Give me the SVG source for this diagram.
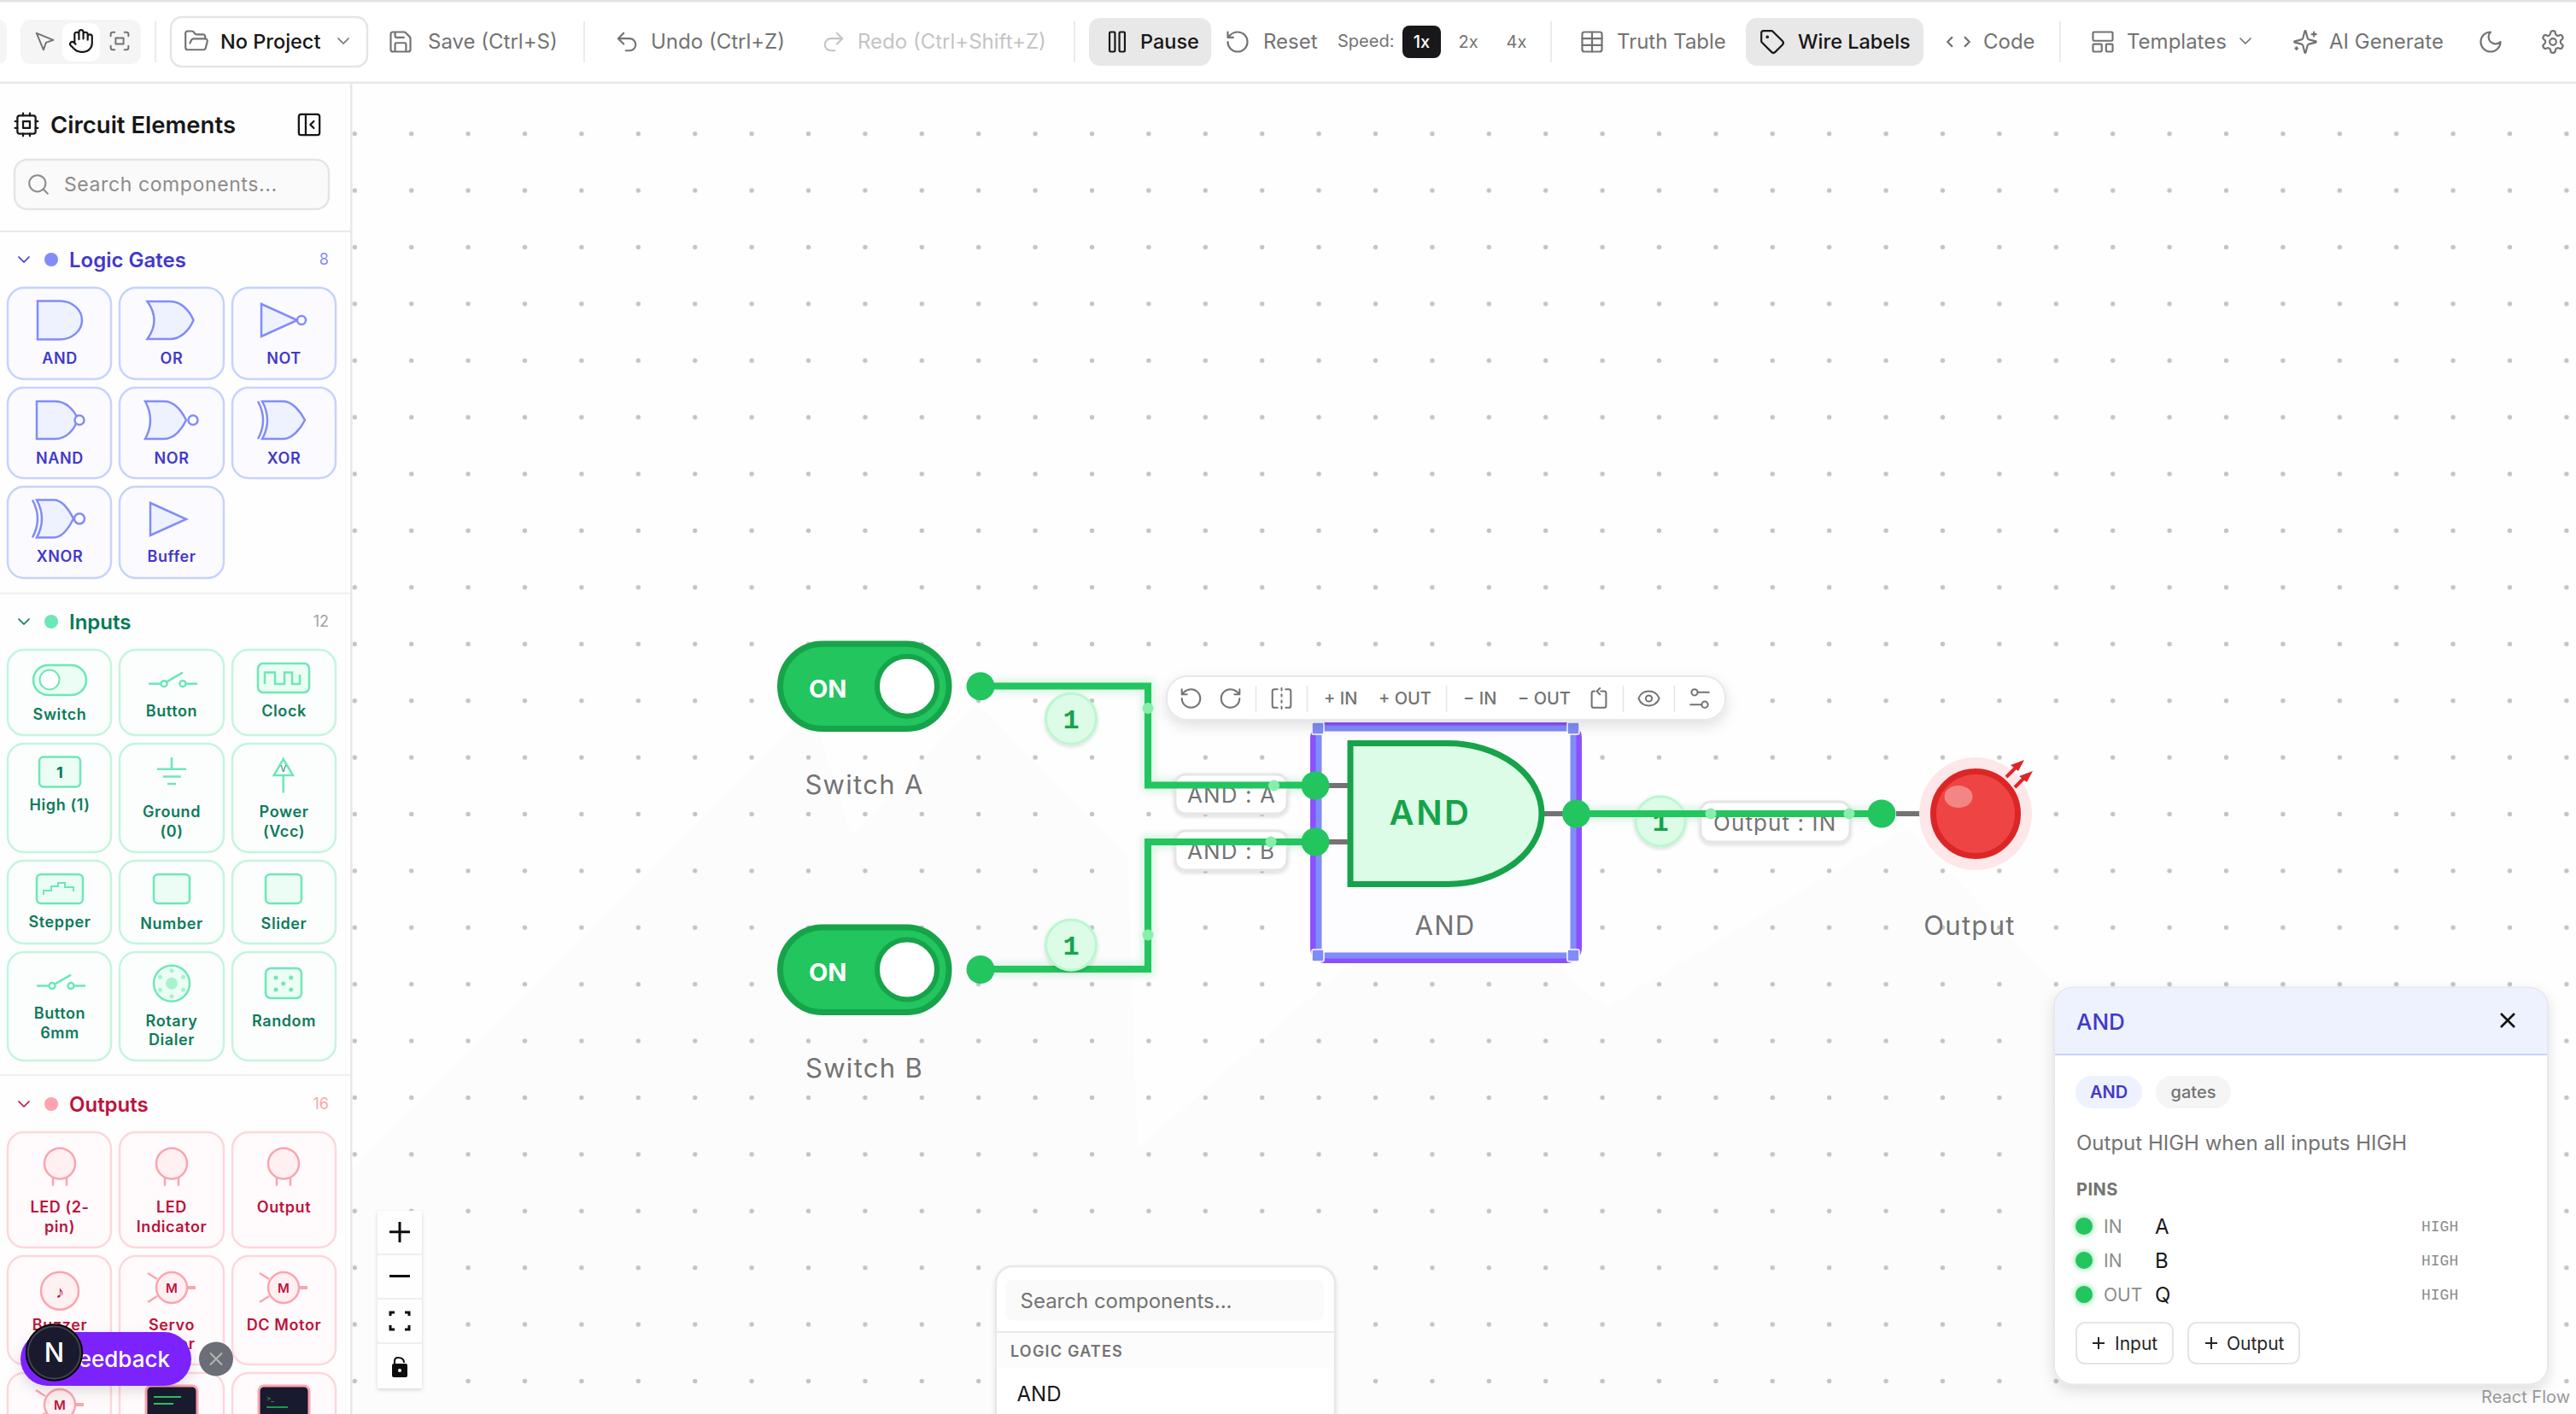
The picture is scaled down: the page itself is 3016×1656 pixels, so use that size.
<svg xmlns="http://www.w3.org/2000/svg" width="3016" height="1656" viewBox="0 0 3016 1656">
<style>
text{font-family:"Inter","Liberation Sans",sans-serif}
.ic{fill:none;stroke:#737373;stroke-width:1.700;stroke-linecap:round;stroke-linejoin:round}
.ick{fill:none;stroke:#171717;stroke-width:1.700;stroke-linecap:round;stroke-linejoin:round}
.icd{fill:none;stroke:#c4c4c4;stroke-width:1.700;stroke-linecap:round;stroke-linejoin:round}
.tb{font-size:24px;fill:#737373;font-weight:400}
.tbk{font-size:23.500px;fill:#171717;font-weight:500}
.sep{stroke:#e5e5e5;stroke-width:1.500}
.sh{font-size:24px;font-weight:600}
.cg{fill:#fbfbff;stroke:#c7d2fe;stroke-width:2.500}
.ci{fill:#fbfefd;stroke:#c4f5de;stroke-width:2.500}
.co{fill:#fffbfc;stroke:#ffd6dc;stroke-width:2.500}
.lg{font-size:18px;font-weight:600;fill:#4338ca;text-anchor:middle;letter-spacing:.6px}
.li{font-size:18px;font-weight:600;fill:#0f7a5a;text-anchor:middle;letter-spacing:.6px}
.lo{font-size:18px;font-weight:600;fill:#be123c;text-anchor:middle;letter-spacing:.6px}
.gi{fill:#eef2ff;stroke:#818cf8;stroke-width:2.500}
.ii{fill:#ecfdf5;stroke:#6ee7b7;stroke-width:2.500}
.il{fill:none;stroke:#6ee7b7;stroke-width:2.500}
.oi{fill:#fff1f2;stroke:#fda4af;stroke-width:2.500}
.ol{fill:none;stroke:#fda4af;stroke-width:2.500}
.cnt{font-size:18px;text-anchor:end}
.wire{fill:none;stroke:#22c55e;stroke-width:8}
.glow{fill:none;stroke:#22c55e;stroke-width:16;opacity:.16}
.stub{stroke:#737373;stroke-width:6}
.pin{fill:#22c55e}
.jn{fill:#86efac}
.wl{fill:#fff;stroke:#e5e5e5;stroke-width:3}
.wlt{font-size:26px;fill:#737373;letter-spacing:1.100px}
.nl{font-size:31px;fill:#737373;letter-spacing:1.300px}
.bdg{fill:#dcfce7;stroke:#bbf7d0;stroke-width:3}
.bdt{font-family:"Liberation Mono",monospace;font-size:32px;font-weight:700;fill:#16a34a;text-anchor:middle}
.sw{fill:#22c55e;stroke:#16a34a;stroke-width:7}
.kn{fill:#fff;stroke:#16a34a;stroke-width:6}
.on{font-size:29px;font-weight:700;fill:#fff}
.nt{font-size:20px;font-weight:500;fill:#737373}
.hd{fill:#818cf8;stroke:#fff;stroke-width:1.500}
.pn{font-size:21px;fill:#8c8c8c}
.pv{font-size:24px;fill:#171717}
.ph{font-family:"Liberation Mono",monospace;font-size:18px;fill:#8c8c8c}
</style>
<defs>
<pattern id="dots" patternUnits="userSpaceOnUse" x="-16.300" y="-9.300" width="66.400" height="66.400"><circle cx="33.200" cy="33.200" r="2.700" fill="#c4c4c4"/></pattern>
<filter id="shadow" x="-20%" y="-30%" width="140%" height="170%"><feDropShadow dx="0" dy="6" stdDeviation="8" flood-color="#000" flood-opacity=".12"/></filter>
<filter id="shs" x="-20%" y="-30%" width="140%" height="170%"><feDropShadow dx="0" dy="2" stdDeviation="2" flood-color="#000" flood-opacity=".14"/></filter>
<filter id="blur" x="-20%" y="-20%" width="140%" height="140%"><feGaussianBlur stdDeviation="4"/></filter>
<filter id="pg" x="-100%" y="-100%" width="300%" height="300%"><feGaussianBlur stdDeviation="3"/></filter>
<g id="pointer"><path transform="translate(-12,-12)" d="m4 4 7.070 17 2.510-7.390L21 11.070z"/></g>
<g id="hand"><path transform="translate(-12,-12)" d="M18 11V6a2 2 0 0 0-2-2a2 2 0 0 0-2 2 M14 10V4a2 2 0 0 0-2-2a2 2 0 0 0-2 2v2 M10 10.500V6a2 2 0 0 0-2-2a2 2 0 0 0-2 2v8 M18 8a2 2 0 1 1 4 0v6a8 8 0 0 1-8 8h-2c-2.800 0-4.500-.860-5.990-2.340l-3.600-3.600a2 2 0 0 1 2.830-2.820L7 15"/></g>
<g id="scan"><path transform="translate(-12,-12)" d="M3 7V5a2 2 0 0 1 2-2h2 M17 3h2a2 2 0 0 1 2 2v2 M21 17v2a2 2 0 0 1-2 2h-2 M7 21H5a2 2 0 0 1-2-2v-2 M8 9h8v6H8z"/></g>
<g id="folder"><path transform="translate(-12,-12)" d="m6 14 1.500-2.900A2 2 0 0 1 9.240 10H20a2 2 0 0 1 1.940 2.500l-1.540 6a2 2 0 0 1-1.940 1.500H4a2 2 0 0 1-2-2V5a2 2 0 0 1 2-2h3.900a2 2 0 0 1 1.690.900l.810 1.200a2 2 0 0 0 1.670.900H18a2 2 0 0 1 2 2v2"/></g>
<g id="chev"><path d="M-6,-3 L0,3 L6,-3"/></g>
<g id="save"><path transform="translate(-12,-12)" d="M15.200 3a2 2 0 0 1 1.400.600l3.800 3.800a2 2 0 0 1 .600 1.400V19a2 2 0 0 1-2 2H5a2 2 0 0 1-2-2V5a2 2 0 0 1 2-2z M17 21v-7a1 1 0 0 0-1-1H8a1 1 0 0 0-1 1v7 M7 3v4a1 1 0 0 0 1 1h7"/></g>
<g id="undo"><path transform="translate(-12,-12)" d="M9 14 4 9l5-5 M4 9h10.500a5.500 5.500 0 0 1 5.500 5.500a5.500 5.500 0 0 1-5.500 5.500H11"/></g>
<g id="redo"><path transform="translate(-12,-12)" d="m15 14 5-5-5-5 M20 9H9.500A5.500 5.500 0 0 0 4 14.500A5.500 5.500 0 0 0 9.500 20H13"/></g>
<g id="pause"><g transform="translate(-12,-12)"><rect x="14" y="3" width="5" height="18" rx="1"/><rect x="5" y="3" width="5" height="18" rx="1"/></g></g>
<g id="ccw"><path transform="translate(-12,-12)" d="M3 12a9 9 0 1 0 9-9 9.750 9.750 0 0 0-6.740 2.740L3 8 M3 3v5h5"/></g>
<g id="cw"><path transform="translate(-12,-12)" d="M21 12a9 9 0 1 1-9-9c2.520 0 4.930 1 6.740 2.740L21 8 M21 3v5h-5"/></g>
<g id="table"><g transform="translate(-12,-12)"><rect x="3" y="3" width="18" height="18" rx="2"/><path d="M3 9h18 M3 15h18 M12 3v18"/></g></g>
<g id="tag"><g transform="translate(-12,-12)"><path d="M12.586 2.586A2 2 0 0 0 11.172 2H4a2 2 0 0 0-2 2v7.172a2 2 0 0 0 .586 1.414l8.704 8.704a2.426 2.426 0 0 0 3.420 0l6.580-6.580a2.426 2.426 0 0 0 0-3.420z"/><circle cx="7.500" cy="7.500" r=".600"/></g></g>
<g id="code"><path transform="translate(-12,-12)" d="m18 16 4-4-4-4 M6 8l-4 4 4 4"/></g>
<g id="tmpl"><g transform="translate(-12,-12)"><rect x="3" y="3" width="18" height="8" rx="1"/><rect x="3" y="14" width="8" height="7" rx="1"/><rect x="15" y="14" width="6" height="7" rx="1"/></g></g>
<g id="spark"><path transform="translate(-12,-12)" d="M9.937 15.500A2 2 0 0 0 8.500 14.063l-6.135-1.582a.500.500 0 0 1 0-.962L8.500 9.936A2 2 0 0 0 9.937 8.500l1.582-6.135a.500.500 0 0 1 .963 0L14.063 8.500A2 2 0 0 0 15.500 9.937l6.135 1.581a.500.500 0 0 1 0 .964L15.500 14.063a2 2 0 0 0-1.437 1.437l-1.582 6.135a.500.500 0 0 1-.963 0z M20 3v4 M22 5h-4 M4 17v2 M5 18H3"/></g>
<g id="moon"><path transform="translate(-12,-12)" d="M12 3a6 6 0 0 0 9 9 9 9 0 1 1-9-9Z"/></g>
<g id="gear"><g transform="translate(-12,-12)"><path d="M12.220 2h-.440a2 2 0 0 0-2 2v.180a2 2 0 0 1-1 1.730l-.430.250a2 2 0 0 1-2 0l-.150-.080a2 2 0 0 0-2.730.730l-.220.380a2 2 0 0 0 .730 2.730l.150.100a2 2 0 0 1 1 1.720v.510a2 2 0 0 1-1 1.740l-.150.090a2 2 0 0 0-.730 2.730l.220.380a2 2 0 0 0 2.730.730l.150-.080a2 2 0 0 1 2 0l.430.250a2 2 0 0 1 1 1.730V20a2 2 0 0 0 2 2h.440a2 2 0 0 0 2-2v-.180a2 2 0 0 1 1-1.730l.430-.250a2 2 0 0 1 2 0l.150.080a2 2 0 0 0 2.730-.730l.220-.390a2 2 0 0 0-.730-2.730l-.150-.080a2 2 0 0 1-1-1.740v-.500a2 2 0 0 1 1-1.740l.150-.090a2 2 0 0 0 .730-2.730l-.220-.380a2 2 0 0 0-2.730-.730l-.150.080a2 2 0 0 1-2 0l-.430-.250a2 2 0 0 1-1-1.730V4a2 2 0 0 0-2-2z"/><circle cx="12" cy="12" r="3"/></g></g>
<g id="cpu"><g transform="translate(-12,-12)"><rect x="4" y="4" width="16" height="16" rx="2"/><rect x="9" y="9" width="6" height="6"/><path d="M15 2v2 M15 20v2 M2 15h2 M2 9h2 M20 15h2 M20 9h2 M9 2v2 M9 20v2"/></g></g>
<g id="panel"><g transform="translate(-12,-12)"><rect x="3" y="3" width="18" height="18" rx="2"/><path d="M9 3v18 M16 15l-3-3 3-3"/></g></g>
<g id="search"><g transform="translate(-12,-12)"><circle cx="11" cy="11" r="8"/><path d="m21 21-4.340-4.340"/></g></g>
<g id="eye"><g transform="translate(-12,-12)"><path d="M2.062 12.348a1 1 0 0 1 0-.696 10.750 10.750 0 0 1 19.876 0 1 1 0 0 1 0 .696 10.750 10.750 0 0 1-19.876 0"/><circle cx="12" cy="12" r="3"/></g></g>
<g id="sliders"><g transform="translate(-12,-12)"><circle cx="7" cy="6" r="3"/><path d="M10 6h11 M3 18h11"/><circle cx="17" cy="18" r="3"/></g></g>
<g id="flip"><path transform="translate(-12,-12)" d="M8 3H5a2 2 0 0 0-2 2v14c0 1.100.900 2 2 2h3 M16 3h3a2 2 0 0 1 2 2v14a2 2 0 0 1-2 2h-3 M12 20v2 M12 14v2 M12 8v2 M12 2v2"/></g>
<g id="rot"><path transform="translate(-12,-12)" d="M8 5H7a2 2 0 0 0-2 2v12a2 2 0 0 0 2 2h10a2 2 0 0 0 2-2V7a2 2 0 0 0-2-2h-3 M10 5l3-3 M10 5l3 3"/></g>
<g id="led"><circle cx="0" cy="0" r="18" class="oi"/><path class="ol" d="M-8,16 V26 M8,16 V26"/></g>
<g id="motor"><path class="ol" d="M-28,-17 L-17,-10 M-28,17 L-17,10"/><path d="M18,0 H28" fill="none" stroke="#fda4af" stroke-width="4"/><circle r="18" class="oi"/><text y="6" text-anchor="middle" font-size="15" font-weight="600" fill="#be123c">M</text></g>
<g id="btnic"><path class="il" d="M-28,0 H-13 M-7,-2 L12,-13 M14,0 H29"/><circle cx="-10" cy="0" r="3.500" class="il"/><circle cx="12" cy="0" r="3.500" class="il"/></g>
</defs>

<rect width="3016" height="1656" fill="#fff"/>
<g id="canvas">
<rect x="412" y="98" width="2604" height="1558" fill="#fefefe"/>
<path d="M412,1370 L950,830 L997,979 L1144,823 L1320,1000 L1332,1345 L1693,1030 L1880,1180 L2233,970 L2540,1290 L3016,1656 L412,1656Z" fill="#fdfcfd"/>
<rect x="412" y="98" width="2604" height="1558" fill="url(#dots)"/>
</g>

<g id="topbar">
<rect y="0" width="3016" height="97" fill="#fff"/>
<rect y="0" width="3016" height="2.500" fill="#e3e3e3"/>
<rect y="95.500" width="3016" height="2.500" fill="#e8e8e8"/>
<rect x="-20" y="23" width="28" height="52" rx="10" fill="#f5f5f5"/>
<rect x="24" y="23" width="141" height="52" rx="12" fill="#f5f5f5"/>
<rect x="73" y="27" width="44" height="45" rx="10" fill="#fff"/>
<use href="#pointer" class="ic" transform="translate(52,48) scale(1.150)"/>
<use href="#hand" class="ick" transform="translate(95,48) scale(1.280)"/>
<use href="#scan" class="ic" transform="translate(140,48) scale(1.150)"/>
<line class="sep" x1="182" x2="182" y1="25" y2="73"/>
<rect x="200" y="20" width="230" height="58" rx="13" fill="#fff" stroke="#e5e5e5" stroke-width="2.500"/>
<use href="#folder" class="ic" transform="translate(230,48) scale(1.280)"/>
<text class="tbk" x="258" y="57">No Project</text>
<use href="#chev" class="ic" transform="translate(402,48)"/>
<use href="#save" class="ic" transform="translate(469,49) scale(1.280)"/>
<text class="tb" x="501" y="57">Save (Ctrl+S)</text>
<line class="sep" x1="684" x2="684" y1="25" y2="73"/>
<use href="#undo" class="ic" transform="translate(734,49) scale(1.280)"/>
<text class="tb" x="762" y="57">Undo (Ctrl+Z)</text>
<use href="#redo" class="icd" transform="translate(976,49) scale(1.280)"/>
<text class="tb" x="1004" y="57" style="fill:#c4c4c4">Redo (Ctrl+Shift+Z)</text>
<line class="sep" x1="1258" x2="1258" y1="25" y2="73"/>
<rect x="1275" y="21" width="143" height="56" rx="13" fill="#e8e8e8"/>
<use href="#pause" class="ick" transform="translate(1308,49) scale(1.280)"/>
<text class="tbk" x="1335" y="57">Pause</text>
<use href="#ccw" class="ic" transform="translate(1449,49) scale(1.280)"/>
<text class="tb" x="1479" y="57">Reset</text>
<text x="1566" y="55" font-size="20" fill="#737373">Speed:</text>
<rect x="1642" y="30" width="45" height="38" rx="8" fill="#18181b"/>
<text x="1664.500" y="56" font-size="20" font-weight="500" fill="#fff" text-anchor="middle">1x</text>
<text x="1719" y="56" font-size="20" fill="#737373" text-anchor="middle">2x</text>
<text x="1775.500" y="56" font-size="20" fill="#737373" text-anchor="middle">4x</text>
<line class="sep" x1="1816" x2="1816" y1="25" y2="73"/>
<use href="#table" class="ic" transform="translate(1864,49) scale(1.280)"/>
<text class="tb" x="1893" y="57">Truth Table</text>
<rect x="2044" y="21" width="208" height="56" rx="13" fill="#e8e8e8"/>
<use href="#tag" class="ick" transform="translate(2075,49) scale(1.280)"/>
<text class="tbk" x="2105" y="57">Wire Labels</text>
<use href="#code" class="ic" transform="translate(2293,49) scale(1.280)"/>
<text class="tb" x="2322" y="57">Code</text>
<line class="sep" x1="2412" x2="2412" y1="25" y2="73"/>
<use href="#tmpl" class="ic" transform="translate(2462,49) scale(1.280)"/>
<text class="tb" x="2490" y="57">Templates</text>
<use href="#chev" class="ic" transform="translate(2629,48)"/>
<use href="#spark" class="ic" transform="translate(2699,49) scale(1.280)"/>
<text class="tb" x="2727" y="57">AI Generate</text>
<use href="#moon" class="ic" transform="translate(2916,49) scale(1.280)"/>
<use href="#gear" class="ic" transform="translate(2989,49) scale(1.280)"/>
</g>

<g id="sidebar">
<rect x="0" y="98" width="410" height="1558" fill="#fefefe"/>
<rect x="410" y="98" width="2.500" height="1558" fill="#e8e8e8"/>
<use href="#cpu" class="ick" transform="translate(31,146) scale(1.330)"/>
<text x="59" y="156" font-size="27.500" font-weight="600" fill="#171717">Circuit Elements</text>
<use href="#panel" class="ick" transform="translate(362,146) scale(1.350)"/>
<rect x="17" y="187" width="368" height="58" rx="15" fill="#fafafa" stroke="#e5e5e5" stroke-width="2.500"/>
<use href="#search" class="ic" transform="translate(45,216) scale(1.200)" style="stroke:#8c8c8c"/>
<text x="75" y="224" font-size="23" fill="#8c8c8c" letter-spacing=".6">Search components...</text>
<line x1="0" x2="410" y1="271" y2="271" stroke="#e8e8e8" stroke-width="2"/>
<use href="#chev" class="ic" transform="translate(28,304)" style="stroke:#4338ca"/>
<circle cx="60" cy="304" r="8" fill="#818cf8"/>
<text class="sh" x="81" y="313" fill="#4338ca">Logic Gates</text>
<text class="cnt" x="385" y="310" fill="#818cf8">8</text>

<rect class="cg" x="9" y="337" width="121" height="107" rx="19"/><rect class="cg" x="140" y="337" width="122" height="107" rx="19"/><rect class="cg" x="272" y="337" width="121" height="107" rx="19"/>
<rect class="cg" x="9" y="454" width="121" height="106" rx="19"/><rect class="cg" x="140" y="454" width="122" height="106" rx="19"/><rect class="cg" x="272" y="454" width="121" height="106" rx="19"/>
<rect class="cg" x="9" y="570" width="121" height="107" rx="19"/><rect class="cg" x="140" y="570" width="122" height="107" rx="19"/>
<path class="gi" transform="translate(70,375)" d="M-26,-22.500 H0 A26,22.500 0 0 1 0,22.500 H-26 Z"/>
<path class="gi" transform="translate(199.500,375)" d="M-27,-22 H0 C12,-22 22,-12 27,0 C22,12 12,22 0,22 H-27 Q-11,0 -27,-22 Z"/>
<g transform="translate(330,375)"><path class="gi" d="M-24,-19 L18,0 L-24,19 Z"/><circle class="gi" cx="23" cy="0" r="5" style="fill:#fff"/></g>
<g transform="translate(69,492)"><path class="gi" d="M-26,-22 H-4 C8,-22 18,-12 22,-1 C18,12 8,22 -4,22 H-26 Z"/><circle class="gi" cx="24" r="5.500" style="fill:#fff"/></g>
<g transform="translate(198,492)"><path class="gi" d="M-28,-22 H-6 C6,-22 15,-10 20,0 C15,10 6,22 -6,22 H-28 Q-16,0 -28,-22 Z"/><circle class="gi" cx="28" r="5.500" style="fill:#fff"/></g>
<g transform="translate(332,492)"><path class="gi" d="M-25,-22 H0 C10,-22 20,-10 25,0 C20,10 10,22 0,22 H-25 Q-13,0 -25,-22 Z"/><path class="gi" style="fill:none" d="M-30,-22 Q-18,0 -30,22"/></g>
<g transform="translate(65,607.500)"><path class="gi" d="M-22,-22 H-2 C8,-22 16,-10 21,0 C16,10 8,22 -2,22 H-22 Q-10,0 -22,-22 Z"/><path class="gi" style="fill:none" d="M-27,-22 Q-15,0 -27,22"/><circle class="gi" cx="28" r="6" style="fill:#fff"/></g>
<path class="gi" d="M176,589 L218,608 L176,627 Z"/>
<text class="lg" x="70" y="425.500">AND</text><text class="lg" x="201" y="425.500">OR</text><text class="lg" x="332.500" y="425.500">NOT</text>
<text class="lg" x="70" y="542.500">NAND</text><text class="lg" x="201" y="542.500">NOR</text><text class="lg" x="332.500" y="542.500">XOR</text>
<text class="lg" x="70" y="658">XNOR</text><text class="lg" x="201" y="658">Buffer</text>
<line x1="0" x2="410" y1="695" y2="695" stroke="#f0f0f0" stroke-width="2"/>

<use href="#chev" class="ic" transform="translate(28,728)" style="stroke:#047857"/>
<circle cx="60" cy="728" r="8" fill="#6ee7b7"/>
<text class="sh" x="81" y="737" fill="#047857">Inputs</text>
<text class="cnt" x="385" y="734" fill="#a3a3a3">12</text>
<rect class="ci" x="9" y="761" width="121" height="100" rx="19"/><rect class="ci" x="140" y="761" width="122" height="100" rx="19"/><rect class="ci" x="272" y="761" width="121" height="100" rx="19"/>
<rect class="ci" x="9" y="871" width="121" height="127" rx="19"/><rect class="ci" x="140" y="871" width="122" height="127" rx="19"/><rect class="ci" x="272" y="871" width="121" height="127" rx="19"/>
<rect class="ci" x="9" y="1008" width="121" height="97" rx="19"/><rect class="ci" x="140" y="1008" width="122" height="97" rx="19"/><rect class="ci" x="272" y="1008" width="121" height="97" rx="19"/>
<rect class="ci" x="9" y="1115" width="121" height="127" rx="19"/><rect class="ci" x="140" y="1115" width="122" height="127" rx="19"/><rect class="ci" x="272" y="1115" width="121" height="127" rx="19"/>
<rect class="ii" x="39" y="779" width="62" height="35" rx="17.500"/><circle cx="58" cy="796" r="11.500" fill="#fff" stroke="#6ee7b7" stroke-width="2"/>
<use href="#btnic" transform="translate(202,800.700)"/>
<rect class="ii" x="302" y="777" width="60" height="34" rx="6"/><path class="il" d="M310,801 V787.500 H322 V801 H333 V787.500 H342 V801 H351 V790"/>
<rect class="ii" x="46" y="886.500" width="48" height="35" rx="5"/><text x="70" y="911" font-size="18" font-weight="700" fill="#047857" text-anchor="middle">1</text>
<path class="il" d="M201,887 V900.700 M184,900.700 H218 M190.700,909.600 H211.700 M196,918 H206"/>
<path class="il" d="M331.700,889 L343,908 H320.700 Z M331.700,908 V928.600"/><text x="331.700" y="904" font-size="10" fill="#047857" text-anchor="middle">V</text>
<rect class="ii" x="43" y="1024" width="54" height="34" rx="5"/><path class="il" d="M51,1048 V1043 H60 V1038 H68 V1034 H76 V1039 H86 V1044" style="stroke-width:2"/>
<rect class="ii" x="180" y="1024" width="42" height="34" rx="5"/>
<rect class="ii" x="311" y="1024" width="42" height="34" rx="5"/>
<use href="#btnic" transform="translate(71,1154.600)"/>
<g transform="translate(201,1151.800)"><circle class="ii" r="21"/><circle r="7" fill="#a7f3d0"/><g fill="#a7f3d0"><circle cy="-15" r="2.500"/><circle cy="15" r="2.500"/><circle cx="-13.500" cy="-7.500" r="2.500"/><circle cx="13.500" cy="-7.500" r="2.500"/><circle cx="-13.500" cy="7.500" r="2.500"/><circle cx="13.500" cy="7.500" r="2.500"/></g></g>
<rect class="ii" x="311" y="1134" width="42" height="35" rx="6"/><g fill="#6ee7b7"><circle cx="323" cy="1145" r="2.500"/><circle cx="340.700" cy="1145" r="2.500"/><circle cx="331.700" cy="1152" r="2.500"/><circle cx="323" cy="1159" r="2.500"/><circle cx="340.700" cy="1159" r="2.500"/></g>
<text class="li" x="70" y="843">Switch</text><text class="li" x="201" y="839">Button</text><text class="li" x="332.500" y="839">Clock</text>
<text class="li" x="70" y="949">High (1)</text><text class="li" x="201" y="957">Ground</text><text class="li" x="201" y="980">(0)</text><text class="li" x="332.500" y="957">Power</text><text class="li" x="332.500" y="980">(Vcc)</text>
<text class="li" x="70" y="1086">Stepper</text><text class="li" x="201" y="1087.500">Number</text><text class="li" x="332.500" y="1087.500">Slider</text>
<text class="li" x="70" y="1193">Button</text><text class="li" x="70" y="1216">6mm</text><text class="li" x="201" y="1202">Rotary</text><text class="li" x="201" y="1224">Dialer</text><text class="li" x="332.500" y="1202">Random</text>
<line x1="0" x2="410" y1="1259" y2="1259" stroke="#f0f0f0" stroke-width="2"/>

<use href="#chev" class="ic" transform="translate(28,1293)" style="stroke:#be123c"/>
<circle cx="60" cy="1293" r="8" fill="#fda4af"/>
<text class="sh" x="81" y="1302" fill="#be123c">Outputs</text>
<text class="cnt" x="385" y="1299" fill="#fda4af">16</text>
<rect class="co" x="9" y="1326" width="121" height="135" rx="19"/><rect class="co" x="140" y="1326" width="122" height="135" rx="19"/><rect class="co" x="272" y="1326" width="121" height="135" rx="19"/>
<rect class="co" x="9" y="1471" width="121" height="127" rx="19"/><rect class="co" x="140" y="1471" width="122" height="127" rx="19"/><rect class="co" x="272" y="1471" width="121" height="127" rx="19"/>
<rect class="co" x="9" y="1608" width="121" height="80" rx="19"/><rect class="co" x="140" y="1608" width="122" height="80" rx="19"/><rect class="co" x="272" y="1608" width="121" height="80" rx="19"/>
<use href="#led" transform="translate(70,1362.700)"/><use href="#led" transform="translate(201,1362.700)"/><use href="#led" transform="translate(332,1362.700)"/>
<text class="lo" x="70" y="1420">LED (2-</text><text class="lo" x="70" y="1443">pin)</text><text class="lo" x="201" y="1420">LED</text><text class="lo" x="201" y="1443">Indicator</text><text class="lo" x="332.500" y="1420">Output</text>
<circle class="oi" cx="70" cy="1511.700" r="22"/><text x="70" y="1520" font-size="20" fill="#be123c" text-anchor="middle" font-family="DejaVu Sans">♪</text>
<use href="#motor" transform="translate(201,1508)"/><use href="#motor" transform="translate(332,1508)"/><use href="#motor" transform="translate(70,1645)"/>
<text class="lo" x="70" y="1557.700">Buzzer</text><text class="lo" x="201" y="1557.700">Servo</text><text class="lo" x="201" y="1580">Motor</text><text class="lo" x="332.500" y="1557.700">DC Motor</text>
<rect x="171" y="1623" width="60" height="50" rx="6" fill="#1a1a2e" stroke="#fda4af" stroke-width="3"/><path d="M180,1636 H212 M180,1644 H203" stroke="#22c55e" stroke-width="2"/>
<rect x="303" y="1623" width="59" height="50" rx="6" fill="#1a1a2e" stroke="#fda4af" stroke-width="3"/><text x="312" y="1641" font-size="8" fill="#22c55e" font-family="Liberation Mono">&gt;_</text><path d="M312,1648 H337" stroke="#22c55e" stroke-width="1.500"/>
</g>

<g id="zoom-controls" filter="url(#shs)">
<rect x="442" y="1418" width="52" height="208" fill="#fefefe"/>
<path d="M442,1469 H494 M442,1521 H494 M442,1573 H494" stroke="#eee" stroke-width="2"/>
<path d="M456,1442.700 H480 M468,1431 V1455 M456,1494.500 H480" stroke="#111" stroke-width="3" fill="none"/>
<path d="M457,1541 V1537 H462 M474,1537 H479 V1541 M457,1552 V1557 H462 M474,1557 H479 V1552" stroke="#111" stroke-width="3" fill="none"/>
<rect x="459" y="1597" width="18" height="16" rx="2" fill="#111"/><circle cx="468" cy="1605" r="2" fill="#fff"/><path d="M462,1597 V1594 Q462,1590 466,1590 Q473,1590 473,1596" fill="none" stroke="#111" stroke-width="2"/>
</g>

<g id="connectors">
<path class="glow" filter="url(#blur)" d="M1164,803.500 H1344 V919.500 H1540 M1164,1135 H1344 V986 H1540 M1861,953 H2203"/>
<g id="wire-labels">
<g filter="url(#shs)"><rect class="wl" x="1376" y="907" width="131" height="46" rx="12"/><rect class="wl" x="1376" y="973" width="131" height="46" rx="12"/><rect class="wl" x="1991" y="939" width="175" height="47" rx="12"/></g>
<text class="wlt" x="1390" y="940">AND : A</text><text class="wlt" x="1390" y="1005.500">AND : B</text><text class="wlt" x="2006" y="973">Output : IN</text>
<g filter="url(#shs)"><circle class="bdg" cx="1944" cy="961.700" r="29"/></g><text class="bdt" x="1944" y="973">1</text>
</g>
<path class="wire" d="M1148,803.500 H1344 V919.500 H1540"/>
<path class="wire" d="M1148,1135 H1344 V986 H1540"/>
<path class="wire" d="M1845,953 H2203"/>
<circle class="jn" cx="1344" cy="829.500" r="6.500"/><circle class="jn" cx="1344" cy="1095" r="6.500"/><circle class="jn" cx="1491.500" cy="920" r="6.500"/><circle class="jn" cx="1488" cy="986" r="6.500"/><circle class="jn" cx="2003" cy="953" r="6.500"/><circle class="jn" cx="2165" cy="953" r="6.500"/>
<g filter="url(#shs)"><circle class="bdg" cx="1254" cy="841.700" r="29.500"/><circle class="bdg" cx="1254" cy="1106.700" r="29.500"/></g>
<text class="bdt" x="1254" y="853">1</text><text class="bdt" x="1254" y="1118">1</text>
</g>

<g id="switch-a">
<rect class="sw" x="913.500" y="754" width="197.500" height="99.500" rx="49.750"/>
<circle class="kn" cx="1062" cy="803.700" r="35"/>
<text class="on" x="947" y="817">ON</text>
<text class="nl" x="1012" y="929.500" text-anchor="middle">Switch A</text>
<circle class="pin" cx="1148" cy="803.700" r="16.500"/>
</g>
<g id="switch-b">
<rect class="sw" x="913.500" y="1086" width="197.500" height="99.500" rx="49.750"/>
<circle class="kn" cx="1062" cy="1135.500" r="35"/>
<text class="on" x="947" y="1148.500">ON</text>
<text class="nl" x="1012" y="1261.500" text-anchor="middle">Switch B</text>
<circle class="pin" cx="1148" cy="1135.500" r="16.500"/>
</g>

<g id="and-gate">
<rect x="1538" y="850" width="310" height="274" rx="14" fill="#fdfdff" stroke="#8b50ff" stroke-width="8"/>
<path d="M1550,853 H1835 M1550,1119 H1835" stroke="#818cf8" stroke-width="7"/>
<path d="M1544,860 V1112 M1842,860 V1112" stroke="#818cf8" stroke-width="7"/>
<rect class="hd" x="1536" y="846" width="14" height="14" rx="2"/><rect class="hd" x="1835" y="846" width="14" height="14" rx="2"/><rect class="hd" x="1536" y="1112" width="14" height="14" rx="2"/><rect class="hd" x="1835" y="1112" width="14" height="14" rx="2"/>
<line class="stub" x1="1556" x2="1578" y1="920" y2="920"/><line class="stub" x1="1556" x2="1578" y1="986" y2="986"/><line class="stub" x1="1806" x2="1830" y1="953" y2="953"/>
<path d="M1581,870.500 H1695 A110,82.500 0 0 1 1695,1035.500 H1581 Z" fill="#dcfce7" stroke="#16a34a" stroke-width="7"/>
<text x="1674.500" y="966" font-size="40" font-weight="600" fill="#16a34a" text-anchor="middle" letter-spacing="2.500">AND</text>
<text class="nl" x="1692" y="1095" text-anchor="middle">AND</text>
<circle class="pin" cx="1540" cy="920" r="16.500"/><circle class="pin" cx="1540" cy="986" r="16.500"/><circle class="pin" cx="1845.500" cy="953" r="16.500"/>
</g>

<g id="output-led">
<circle class="pin" cx="2203" cy="953" r="16.500"/>
<line class="stub" x1="2220" x2="2253" y1="953" y2="953"/>
<circle cx="2313" cy="953" r="66" fill="#fee7e9"/>
<circle cx="2313" cy="953" r="49.500" fill="#ef4444" stroke="#dc2626" stroke-width="7"/>
<ellipse cx="2293" cy="933" rx="16.500" ry="13" fill="#fff" opacity=".35"/>
<path d="M2349,910 L2364,895 M2359,922 L2374,907" stroke="#dc2626" stroke-width="4" fill="none"/>
<path d="M2370,890 L2354,896 L2363,903 Z M2380,903 L2364,909 L2373,916 Z" fill="#dc2626"/>
<text class="nl" x="2306" y="1095" text-anchor="middle">Output</text>
</g>

<g id="node-toolbar">
<rect x="1366" y="792" width="654" height="51" rx="24" fill="#fff" stroke="#e8e8e8" stroke-width="2" filter="url(#shadow)"/>
<path class="sep" d="M1470.500,803 V834 M1530.500,803 V834 M1693.500,803 V834 M1900.500,803 V834 M1960.500,803 V834"/>
<use href="#ccw" class="ic" transform="translate(1394.500,818) scale(1.200)"/><use href="#cw" class="ic" transform="translate(1440.500,818) scale(1.200)"/><use href="#flip" class="ic" transform="translate(1500.500,818) scale(1.200)"/>
<text class="nt" x="1550" y="825">+ IN</text><text class="nt" x="1614" y="825">+ OUT</text><text class="nt" x="1713" y="825">− IN</text><text class="nt" x="1777" y="825">− OUT</text>
<use href="#rot" class="ic" transform="translate(1872,818) scale(1.200)"/><use href="#eye" class="ic" transform="translate(1930.500,818) scale(1.200)"/><use href="#sliders" class="ic" transform="translate(1990,818) scale(1.200)"/>
</g>

<g id="properties">
<rect x="2405" y="1156.500" width="578" height="465" rx="22" fill="#fff" stroke="#e8e8e8" stroke-width="2" filter="url(#shadow)"/>
<path d="M2406,1234.500 V1178 a21,21 0 0 1 21,-21 H2961 a21,21 0 0 1 21,21 V1234.500 Z" fill="#eef2ff"/>
<line x1="2406" x2="2982" y1="1235" y2="1235" stroke="#c7d2fe" stroke-width="2"/>
<text x="2431" y="1205.500" font-size="26" font-weight="500" fill="#4338ca">AND</text>
<path d="M2928,1187 L2944,1203 M2944,1187 L2928,1203" stroke="#111" stroke-width="2.500"/>
<rect x="2430" y="1260" width="78" height="38" rx="19" fill="#eef2ff"/><text x="2469" y="1286" font-size="20" font-weight="600" fill="#4338ca" text-anchor="middle">AND</text>
<rect x="2524" y="1260" width="88" height="38" rx="19" fill="#f5f5f5"/><text x="2568" y="1286" font-size="20" font-weight="500" fill="#737373" text-anchor="middle">gates</text>
<text x="2431" y="1347" font-size="24" fill="#737373">Output HIGH when all inputs HIGH</text>
<text x="2431" y="1400" font-size="20" font-weight="700" fill="#737373" letter-spacing=".5">PINS</text>
<g fill="#22c55e"><g filter="url(#pg)" opacity=".5"><circle cx="2440" cy="1436" r="11"/><circle cx="2440" cy="1476" r="11"/><circle cx="2440" cy="1516" r="11"/></g><circle cx="2440" cy="1436" r="10"/><circle cx="2440" cy="1476" r="10"/><circle cx="2440" cy="1516" r="10"/></g>
<text class="pn" x="2463" y="1443.500">IN</text><text class="pn" x="2463" y="1483.500">IN</text><text class="pn" x="2463" y="1523.500">OUT</text>
<text class="pv" x="2523" y="1445">A</text><text class="pv" x="2523" y="1485">B</text><text class="pv" x="2523" y="1525">Q</text>
<text class="ph" x="2835" y="1442">HIGH</text><text class="ph" x="2835" y="1482">HIGH</text><text class="ph" x="2835" y="1522">HIGH</text>
<rect x="2431" y="1549" width="113" height="48" rx="10" fill="#fff" stroke="#e5e5e5" stroke-width="2"/><rect x="2562" y="1549" width="130" height="48" rx="10" fill="#fff" stroke="#e5e5e5" stroke-width="2"/>
<path d="M2450,1573 H2464 M2457,1566 V1580 M2582,1573 H2596 M2589,1566 V1580" stroke="#262626" stroke-width="2"/>
<text x="2476" y="1580.500" font-size="21" fill="#262626">Input</text><text x="2607" y="1580.500" font-size="21" fill="#262626">Output</text>
</g>
<text x="3009" y="1643" font-size="20" fill="#999" text-anchor="end">React Flow</text>

<g id="search-panel">
<rect x="1166" y="1483" width="397" height="200" rx="20" fill="#fff" stroke="#e8e8e8" stroke-width="2.500" filter="url(#shs)"/>
<rect x="1177.500" y="1499" width="372.500" height="47.500" rx="8" fill="#fafafa"/>
<text x="1194.500" y="1531.500" font-size="24" fill="#737373">Search components...</text>
<rect x="1167" y="1560" width="395" height="43" fill="#fcfcfc"/>
<line x1="1167" x2="1562" y1="1560" y2="1560" stroke="#e8e8e8" stroke-width="2"/>
<text x="1183" y="1589" font-size="18" font-weight="600" fill="#737373" letter-spacing="1.200">LOGIC GATES</text>
<text x="1190.500" y="1640.500" font-size="24" fill="#171717">AND</text>
</g>

<g id="feedback">
<rect x="24" y="1560" width="200" height="63" rx="31.500" fill="#7b22fc" filter="url(#shadow)"/>
<text x="199" y="1601" font-size="26" font-weight="500" fill="#fff" text-anchor="end">Feedback</text>
<circle cx="63.500" cy="1584" r="33" fill="#1a1a2e" stroke="#000" stroke-width="1.500"/><circle cx="63.500" cy="1584" r="30.500" fill="none" stroke="#4a4a52" stroke-width="1.500"/>
<text x="63.500" y="1595" font-size="31" font-weight="500" fill="#fff" text-anchor="middle">N</text>
<circle cx="253" cy="1591.500" r="20" fill="#6b6e76"/>
<path d="M246,1584.500 L260,1598.500 M260,1584.500 L246,1598.500" stroke="#b5b5b5" stroke-width="2"/>
</g>
</svg>
